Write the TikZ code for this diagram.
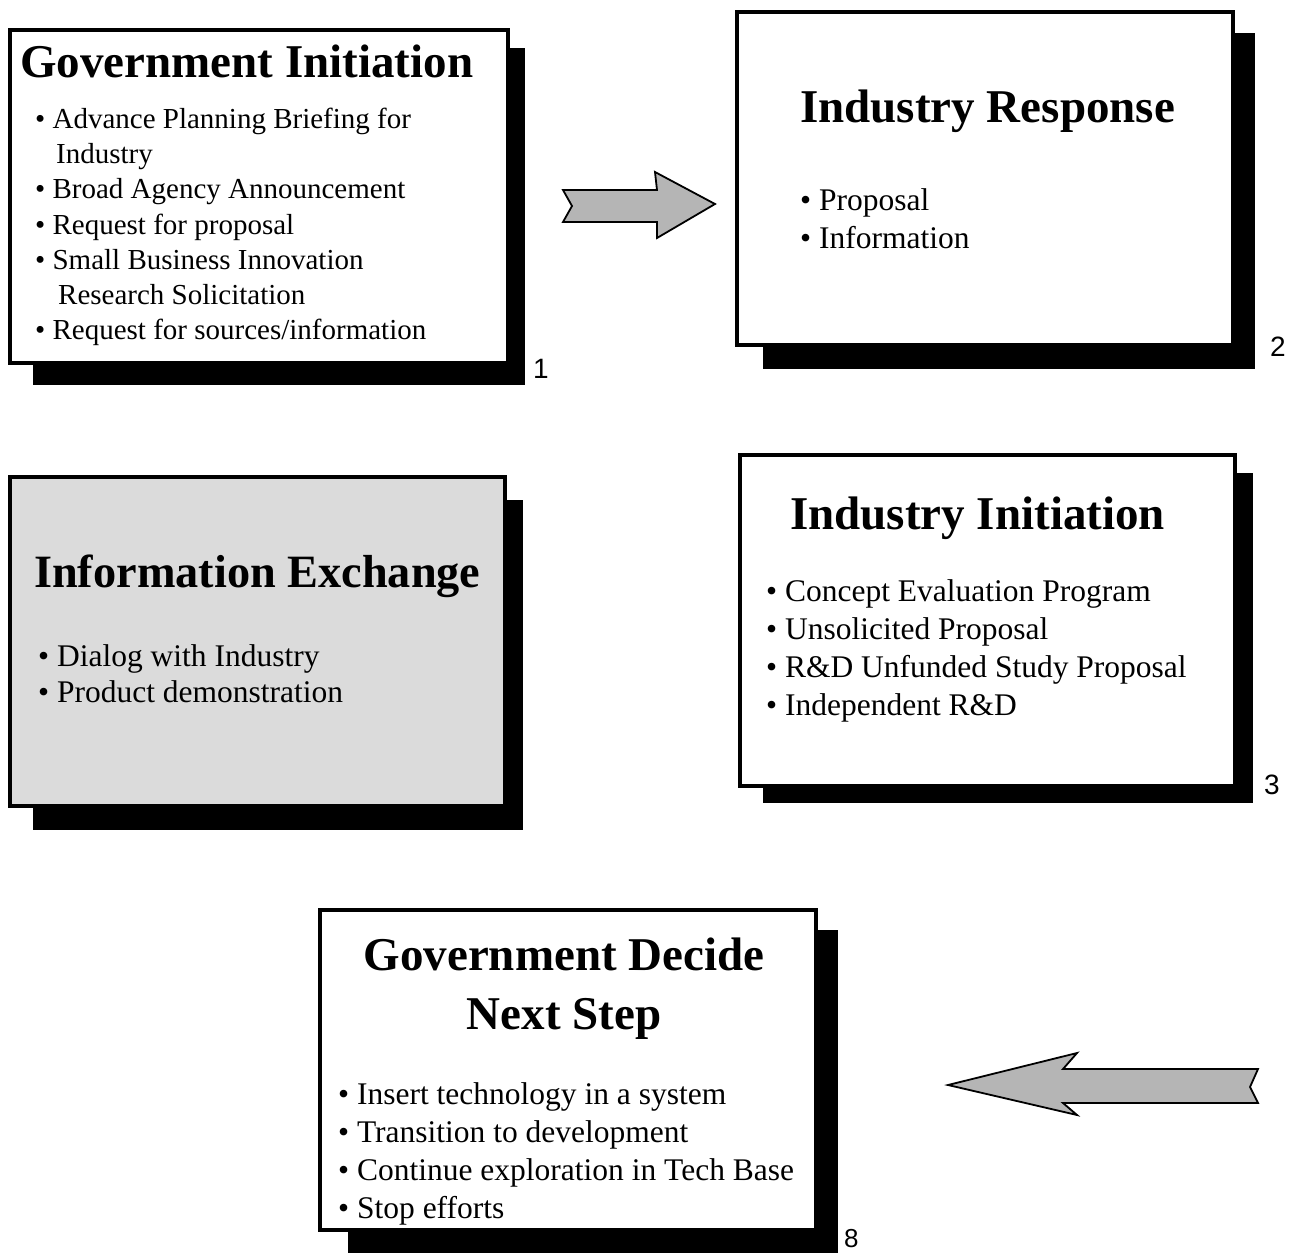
\documentclass[tikz,border=0pt]{standalone}
\usepackage{fontspec}
\setmainfont{Liberation Serif}
\newfontfamily\numfont{Liberation Sans}
\begin{document}
\begin{tikzpicture}[x=1pt,y=-1pt,
  shadowbox/.style={fill=black},
  framebox/.style={draw=black,line width=4.5pt,fill=white},
  texbox/.style={draw=black,line width=4.5pt,fill=gray!28},
  title/.style={anchor=base west,inner sep=0pt,font=\fontsize{47}{56}\selectfont\bfseries},
  ctitle/.style={anchor=base,inner sep=0pt,font=\fontsize{47}{56}\selectfont\bfseries},
  item/.style={anchor=base west,inner sep=0pt,font=\fontsize{31.5}{38}\selectfont},
  smallitem/.style={anchor=base west,inner sep=0pt,font=\fontsize{29}{35}\selectfont},
  num/.style={anchor=base west,inner sep=0pt,font=\fontsize{28}{32}\selectfont\numfont},
  bigarrow/.style={draw=black,line width=1.8pt,fill=gray!58,line join=miter}]
\useasboundingbox (0,0) rectangle (1298,1253);

% ---- Box 1: Government Initiation
\fill[shadowbox] (33,48) rectangle (525,385);
\draw[framebox] (10,30) rectangle (508,363);
\node[title] (t1) at (20,77) {Government Initiation};
\node[smallitem] (i11) at (35,128) {• Advance Planning Briefing for};
\node[smallitem] (i12) at (56,163) {Industry};
\node[smallitem] (i13) at (35,198) {• Broad Agency Announcement};
\node[smallitem] (i14) at (35,234) {• Request for proposal};
\node[smallitem] (i15) at (35,269) {• Small Business Innovation};
\node[smallitem] (i16) at (58,304) {Research Solicitation};
\node[smallitem] (i17) at (35,339) {• Request for sources/information};
\node[num] (n1) at (533,378) {1};

% ---- Box 2: Industry Response
\fill[shadowbox] (763,33) rectangle (1255,369);
\draw[framebox] (737,12) rectangle (1233,345);
\node[title] (t2) at (800,122) {Industry Response};
\node[item] (i21) at (800,210) {• Proposal};
\node[item] (i22) at (800,248) {• Information};
\node[num] (n2) at (1270,356) {2};

% ---- Box 3: Industry Initiation
\fill[shadowbox] (763,473) rectangle (1253,803);
\draw[framebox] (740,455) rectangle (1235,786);
\node[title] (t3) at (790,529) {Industry Initiation};
\node[item] (i31) at (766,601) {• Concept Evaluation Program};
\node[item] (i32) at (766,639) {• Unsolicited Proposal};
\node[item] (i33) at (766,677) {• R\&D Unfunded Study Proposal};
\node[item] (i34) at (766,715) {• Independent R\&D};
\node[num] (n3) at (1264,794) {3};

% ---- Box 4: Information Exchange
\fill[shadowbox] (33,500) rectangle (523,830);
\draw[texbox] (10,477) rectangle (505,806);
\node[title,font=\fontsize{46.3}{56}\selectfont\bfseries] (t4) at (34,587) {Information Exchange};
\node[item] (i41) at (38,666) {• Dialog with Industry};
\node[item] (i42) at (38,702) {• Product demonstration};

% ---- Box 8: Government Decide Next Step
\fill[shadowbox] (348,930) rectangle (838,1253);
\draw[framebox] (320,910) rectangle (816,1230);
\node[ctitle] (t81) at (564,970) {Government Decide};
\node[ctitle] (t82) at (564,1029) {Next Step};
\node[item] (i81) at (338,1104) {• Insert technology in a system};
\node[item] (i82) at (338,1142) {• Transition to development};
\node[item] (i83) at (338,1180) {• Continue exploration in Tech Base};
\node[item] (i84) at (338,1218) {• Stop efforts};
\node[num,font=\fontsize{26}{30}\selectfont\numfont] (n8) at (844,1247) {8};

% ---- Arrows
\draw[bigarrow] (563,190) -- (657,190) -- (655,172) -- (715,204) -- (657,238)
  -- (657,222) -- (563,222) -- (572,206) -- cycle;
\draw[bigarrow] (1258,1069) -- (1063,1069) -- (1077,1053) -- (948,1085) -- (1077,1115)
  -- (1063,1103) -- (1258,1103) -- (1250,1087) -- cycle;
\end{tikzpicture}
\end{document}
